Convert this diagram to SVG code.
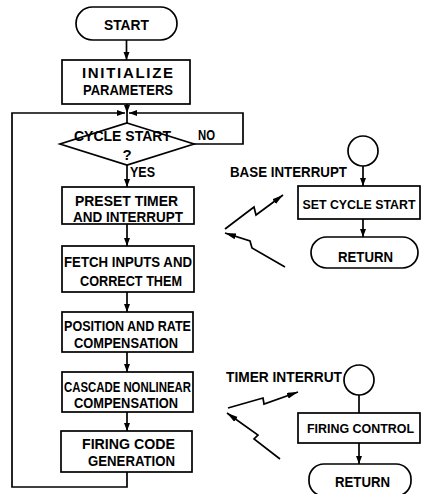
<svg xmlns="http://www.w3.org/2000/svg" width="423" height="494" viewBox="0 0 423 494">
<defs>
<style>
.b{fill:#fff;stroke:#000;stroke-width:1.7}
.c{fill:none;stroke:#000;stroke-width:1.7}
.t{font-family:"Liberation Sans",Arial,sans-serif;font-size:15px;font-weight:bold;fill:#000;text-anchor:middle}
.s{font-size:13.5px}
.x{font-size:12.5px}
</style>
<marker id="ah" markerUnits="userSpaceOnUse" markerWidth="9" markerHeight="7" refX="8" refY="3" orient="auto">
<path d="M0,0 L8,3 L0,6 z" fill="#000"/>
</marker>
<marker id="bh" markerUnits="userSpaceOnUse" markerWidth="12" markerHeight="7" refX="11" refY="3" orient="auto">
<path d="M0,0 L11,3 L0,6 z" fill="#000"/>
</marker>
</defs>
<rect width="423" height="494" fill="#fff"/>
<g id="connectors">
<line class="c" x1="126.5" y1="40" x2="126.5" y2="60" marker-end="url(#ah)"/>
<line class="c" x1="127" y1="104" x2="127" y2="113" marker-end="url(#ah)"/>
<line class="c" x1="127" y1="113" x2="127" y2="123"/>
<path class="c" d="M194,144 H243 V113 H129" marker-end="url(#ah)"/>
<path class="c" d="M127,472 V487 H12 V113 H125" marker-end="url(#ah)"/>
<line class="c" x1="127" y1="165" x2="127" y2="187" marker-end="url(#ah)"/>
<line class="c" x1="127" y1="224" x2="127" y2="246" marker-end="url(#ah)"/>
<line class="c" x1="127" y1="292" x2="127" y2="312" marker-end="url(#ah)"/>
<line class="c" x1="127" y1="352" x2="127" y2="372" marker-end="url(#ah)"/>
<line class="c" x1="127" y1="412" x2="127" y2="431" marker-end="url(#ah)"/>
<line class="c" x1="363" y1="166" x2="363" y2="186" marker-end="url(#ah)"/>
<line class="c" x1="363" y1="219" x2="363" y2="237" marker-end="url(#ah)"/>
<line class="c" x1="359" y1="395" x2="359" y2="413"/>
<line class="c" x1="359" y1="443" x2="359" y2="464" marker-end="url(#ah)"/>
<path class="c" d="M225,229 L254,207 L256,215 L283,195" marker-end="url(#bh)"/>
<path class="c" d="M285,267 L252,248 L250,241 L225,233" marker-end="url(#bh)"/>
<path class="c" d="M228,408 L263,398 L264,404 L298,392" marker-end="url(#bh)"/>
<path class="c" d="M280,459 L254,439 L258,435 L227,413" marker-end="url(#bh)"/>
</g>
<g id="start">
<rect class="b" x="76" y="7" width="101" height="33" rx="16.5"/>
<text class="t" x="126.5" y="30" textLength="45" lengthAdjust="spacingAndGlyphs">START</text>
</g>
<g id="init">
<rect class="b" x="62" y="60" width="128" height="44"/>
<text class="t" x="127.5" y="78" textLength="91">INITIALIZE</text>
<text class="t" x="128" y="95" textLength="90" lengthAdjust="spacingAndGlyphs">PARAMETERS</text>
</g>
<g id="cycle">
<polygon class="b" points="127,123 194,144 127,165 60,144"/>
<text class="t" x="122.5" y="141" textLength="97" lengthAdjust="spacingAndGlyphs">CYCLE START</text>
<text class="t" x="127" y="160">?</text>
<text class="t" x="206.5" y="140" textLength="17" lengthAdjust="spacingAndGlyphs">NO</text>
<text class="t" x="142.5" y="177" textLength="25" lengthAdjust="spacingAndGlyphs">YES</text>
</g>
<g id="preset">
<rect class="b" x="62" y="187" width="132" height="37"/>
<text class="t" x="126.5" y="205.5" textLength="103" lengthAdjust="spacingAndGlyphs">PRESET TIMER</text>
<text class="t" x="128" y="221.5" textLength="110" lengthAdjust="spacingAndGlyphs">AND INTERRUPT</text>
</g>
<g id="fetch">
<rect class="b" x="62" y="246" width="132" height="46"/>
<text class="t" x="128" y="267" textLength="128" lengthAdjust="spacingAndGlyphs">FETCH INPUTS AND</text>
<text class="t" x="131" y="286" textLength="102" lengthAdjust="spacingAndGlyphs">CORRECT THEM</text>
</g>
<g id="position">
<rect class="b" x="62" y="312" width="131" height="40"/>
<text class="t" x="127.5" y="331" textLength="127" lengthAdjust="spacingAndGlyphs">POSITION AND RATE</text>
<text class="t" x="126" y="348" textLength="104" lengthAdjust="spacingAndGlyphs">COMPENSATION</text>
</g>
<g id="cascade">
<rect class="b" x="62" y="372" width="131" height="40"/>
<text class="t" x="127.5" y="392" textLength="127" lengthAdjust="spacingAndGlyphs">CASCADE NONLINEAR</text>
<text class="t" x="126" y="408" textLength="104" lengthAdjust="spacingAndGlyphs">COMPENSATION</text>
</g>
<g id="firing">
<rect class="b" x="61" y="431" width="131" height="41"/>
<text class="t" x="128.5" y="449" textLength="93" lengthAdjust="spacingAndGlyphs">FIRING CODE</text>
<text class="t" x="131.5" y="466" textLength="87" lengthAdjust="spacingAndGlyphs">GENERATION</text>
</g>
<g id="base-interrupt">
<circle class="b" cx="363" cy="151" r="15"/>
<text class="t" x="288.5" y="177" textLength="117" lengthAdjust="spacingAndGlyphs">BASE INTERRUPT</text>
</g>
<g id="set-cycle-start">
<rect class="b" x="298" y="186" width="122" height="33"/>
<text class="t x" x="359" y="208.5" textLength="113" lengthAdjust="spacingAndGlyphs">SET CYCLE START</text>
</g>
<g id="return1">
<rect class="b" x="311" y="237" width="107" height="31" rx="15.5"/>
<text class="t" x="365.5" y="262" textLength="55" lengthAdjust="spacingAndGlyphs">RETURN</text>
</g>
<g id="timer-interrupt">
<circle class="b" cx="359" cy="380" r="15"/>
<text class="t" x="284" y="382" textLength="116" lengthAdjust="spacingAndGlyphs">TIMER INTERRUT</text>
</g>
<g id="firing-control">
<rect class="b" x="298" y="413" width="122" height="30"/>
<text class="t s" x="360.5" y="433" textLength="107" lengthAdjust="spacingAndGlyphs">FIRING CONTROL</text>
</g>
<g id="return2">
<rect class="b" x="309" y="464" width="102" height="32" rx="15"/>
<text class="t" x="362.5" y="487" textLength="55" lengthAdjust="spacingAndGlyphs">RETURN</text>
</g>
</svg>
